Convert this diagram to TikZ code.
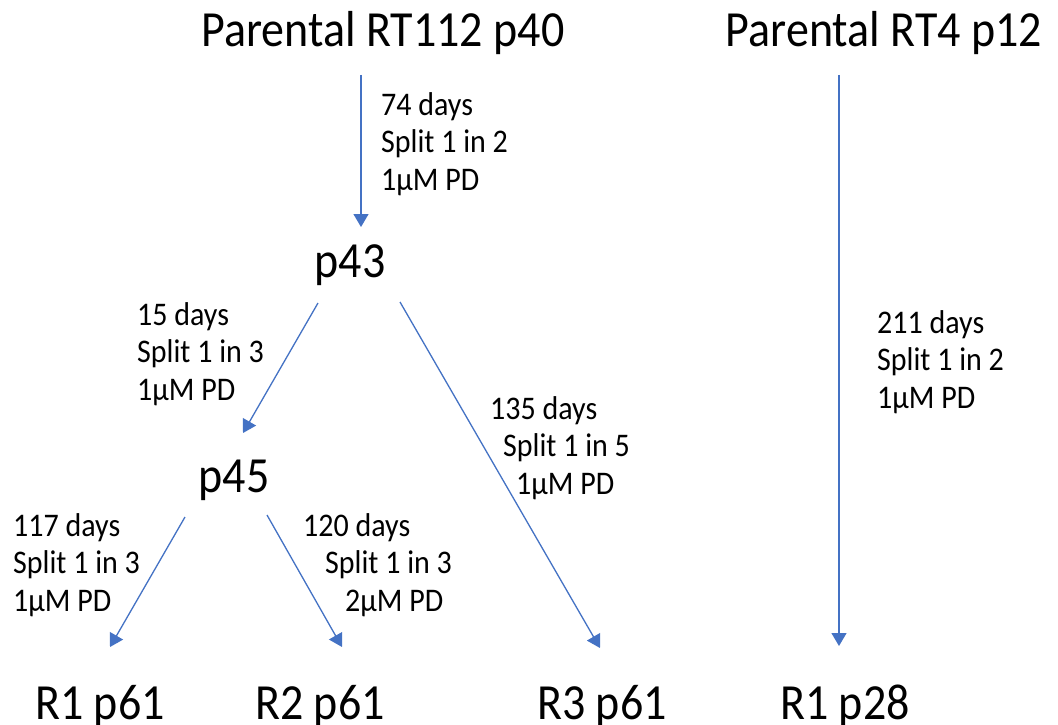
\documentclass[tikz,border=0pt]{standalone}
\usepackage{fontspec}
\setmainfont{Carlito}
\usetikzlibrary{arrows.meta}
\definecolor{arrowblue}{HTML}{4472C4}
\begin{document}
\begin{tikzpicture}[x=1pt,y=-1pt,
  big/.style={font=\fontsize{46}{55}\selectfont, inner sep=0pt, anchor=base, yscale=1.1},
  lbl/.style={font=\fontsize{30}{34}\selectfont, inner sep=0pt, anchor=base west, align=left, yscale=1.1},
  arr/.style={draw=arrowblue, line width=1.3pt, -{Triangle[length=13pt,width=15pt]}}]
\useasboundingbox[fill=white] (0,0) rectangle (1058,725);
% main nodes
\node[big] (par1) at (383,47) {Parental RT112 p40};
\node[big] (par2) at (884,47) {Parental RT4 p12};
\node[big] (p43) at (350,277) {p43};
\node[big] (p45) at (234,492) {p45};
\node[big] (r1) at (100,719) {R1 p61};
\node[big] (r2) at (320,719) {R2 p61};
\node[big] (r3) at (602,719) {R3 p61};
\node[big] (r4) at (845,719) {R1 p28};
% connector ends
\coordinate (a1s) at (361,75);  \coordinate (a1e) at (361,227);
\coordinate (a2s) at (318,303); \coordinate (a2e) at (243,433);
\coordinate (a3s) at (400,302); \coordinate (a3e) at (600,648);
\coordinate (a4s) at (185,517); \coordinate (a4e) at (110,647);
\coordinate (a5s) at (267,515); \coordinate (a5e) at (342,647);
\coordinate (a6s) at (839,75);  \coordinate (a6e) at (839,646);
% connectors
\draw[arr] (a1s) -- (a1e);
\draw[arr] (a2s) -- (a2e);
\draw[arr] (a3s) -- (a3e);
\draw[arr] (a4s) -- (a4e);
\draw[arr] (a5s) -- (a5e);
\draw[arr] (a6s) -- (a6e);
% labels (anchored at the baseline of their last line)
\node[lbl] (l1) at (381,190) {74 days\\Split 1 in 2\\1µM PD};
\node[lbl] (l2) at (137,400) {15 days\\Split 1 in 3\\1µM PD};
\node[lbl] (l3) at (13,611) {117 days\\Split 1 in 3\\1µM PD};
\node[lbl] (l4) at (303,611) {120 days\\\hspace*{22pt}Split 1 in 3\\\hspace*{42pt}2µM PD};
\node[lbl] (l5) at (490,494) {135 days\\\hspace*{13pt}Split 1 in 5\\\hspace*{26pt}1µM PD};
\node[lbl] (l6) at (877,408) {211 days\\Split 1 in 2\\1µM PD};
\end{tikzpicture}
\end{document}
